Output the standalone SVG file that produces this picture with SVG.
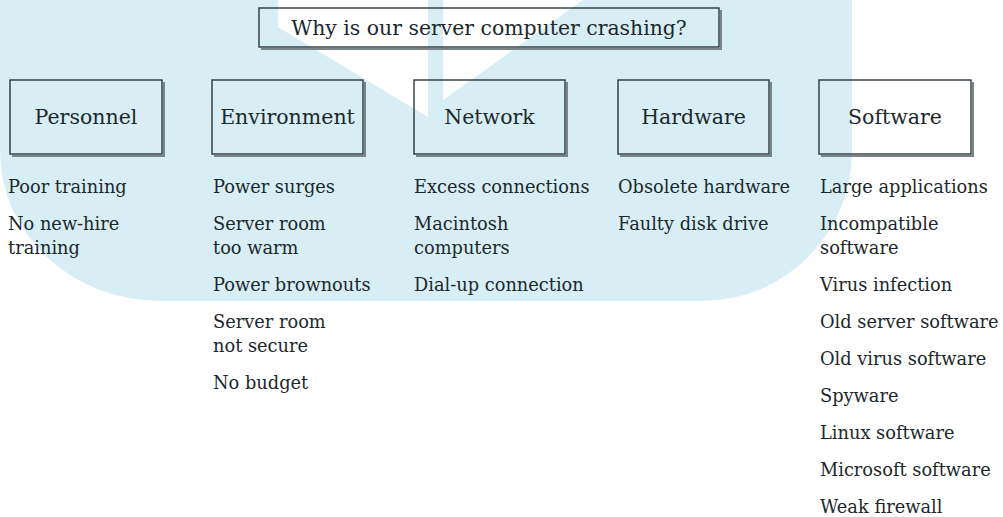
<svg xmlns="http://www.w3.org/2000/svg" width="1003" height="517" viewBox="0 0 1003 517">
<style>
.bg{fill:#d7eef5}
.box{fill:none;stroke:#2b373b;stroke-width:1.4}
.sh{fill:none;stroke:#7a8386;stroke-width:2}
.lbl{font-family:"DejaVu Serif","Liberation Serif",serif;font-size:20.5px;fill:#1c282c}
.title{font-family:"DejaVu Serif","Liberation Serif",serif;font-size:20.4px;fill:#1c282c}
.it{font-family:"DejaVu Serif","Liberation Serif",serif;font-size:17.8px;fill:#1c282c}
</style>
<path class="bg" d="M0,0 H278 V27 L428,117 V0 H443 V100 L583,0 H852 V150 A150,150 0 0 1 702,301 H160 A160,150 0 0 1 0,151 Z"/>
<g id="title">
<path class="sh" d="M721,10 V49 H261"/>
<rect class="box" x="259" y="8" width="460" height="39"/>
<text class="title" x="489" y="35" text-anchor="middle">Why is our server computer crashing?</text>
</g>
<g id="personnel">
<path class="sh" d="M164,82 V156 H12"/>
<rect class="box" x="10" y="80" width="152" height="74"/>
<text class="lbl" x="86" y="124" text-anchor="middle">Personnel</text>
<text class="it" x="8" y="193">Poor training</text>
<text class="it" x="8" y="230">No new-hire</text>
<text class="it" x="8" y="254">training</text>
</g>
<g id="environment">
<path class="sh" d="M365,82 V156 H214"/>
<rect class="box" x="212" y="80" width="151" height="74"/>
<text class="lbl" x="287.5" y="124" text-anchor="middle">Environment</text>
<text class="it" x="213" y="193">Power surges</text>
<text class="it" x="213" y="230">Server room</text>
<text class="it" x="213" y="254">too warm</text>
<text class="it" x="213" y="291">Power brownouts</text>
<text class="it" x="213" y="328">Server room</text>
<text class="it" x="213" y="352">not secure</text>
<text class="it" x="213" y="389">No budget</text>
</g>
<g id="network">
<path class="sh" d="M567,82 V156 H416"/>
<rect class="box" x="414" y="80" width="151" height="74"/>
<text class="lbl" x="489.5" y="124" text-anchor="middle">Network</text>
<text class="it" x="414" y="193">Excess connections</text>
<text class="it" x="414" y="230">Macintosh</text>
<text class="it" x="414" y="254">computers</text>
<text class="it" x="414" y="291">Dial-up connection</text>
</g>
<g id="hardware">
<path class="sh" d="M771,82 V156 H620"/>
<rect class="box" x="618" y="80" width="151" height="74"/>
<text class="lbl" x="693.5" y="124" text-anchor="middle">Hardware</text>
<text class="it" x="618" y="193">Obsolete hardware</text>
<text class="it" x="618" y="230">Faulty disk drive</text>
</g>
<g id="software">
<path class="sh" d="M973,82 V156 H821"/>
<rect class="box" x="819" y="80" width="152" height="74"/>
<text class="lbl" x="895" y="124" text-anchor="middle">Software</text>
<text class="it" x="820" y="193">Large applications</text>
<text class="it" x="820" y="230">Incompatible</text>
<text class="it" x="820" y="254">software</text>
<text class="it" x="820" y="291">Virus infection</text>
<text class="it" x="820" y="328">Old server software</text>
<text class="it" x="820" y="365">Old virus software</text>
<text class="it" x="820" y="402">Spyware</text>
<text class="it" x="820" y="439">Linux software</text>
<text class="it" x="820" y="476">Microsoft software</text>
<text class="it" x="820" y="513">Weak firewall</text>
</g>
<g id="connectors"></g>
</svg>
